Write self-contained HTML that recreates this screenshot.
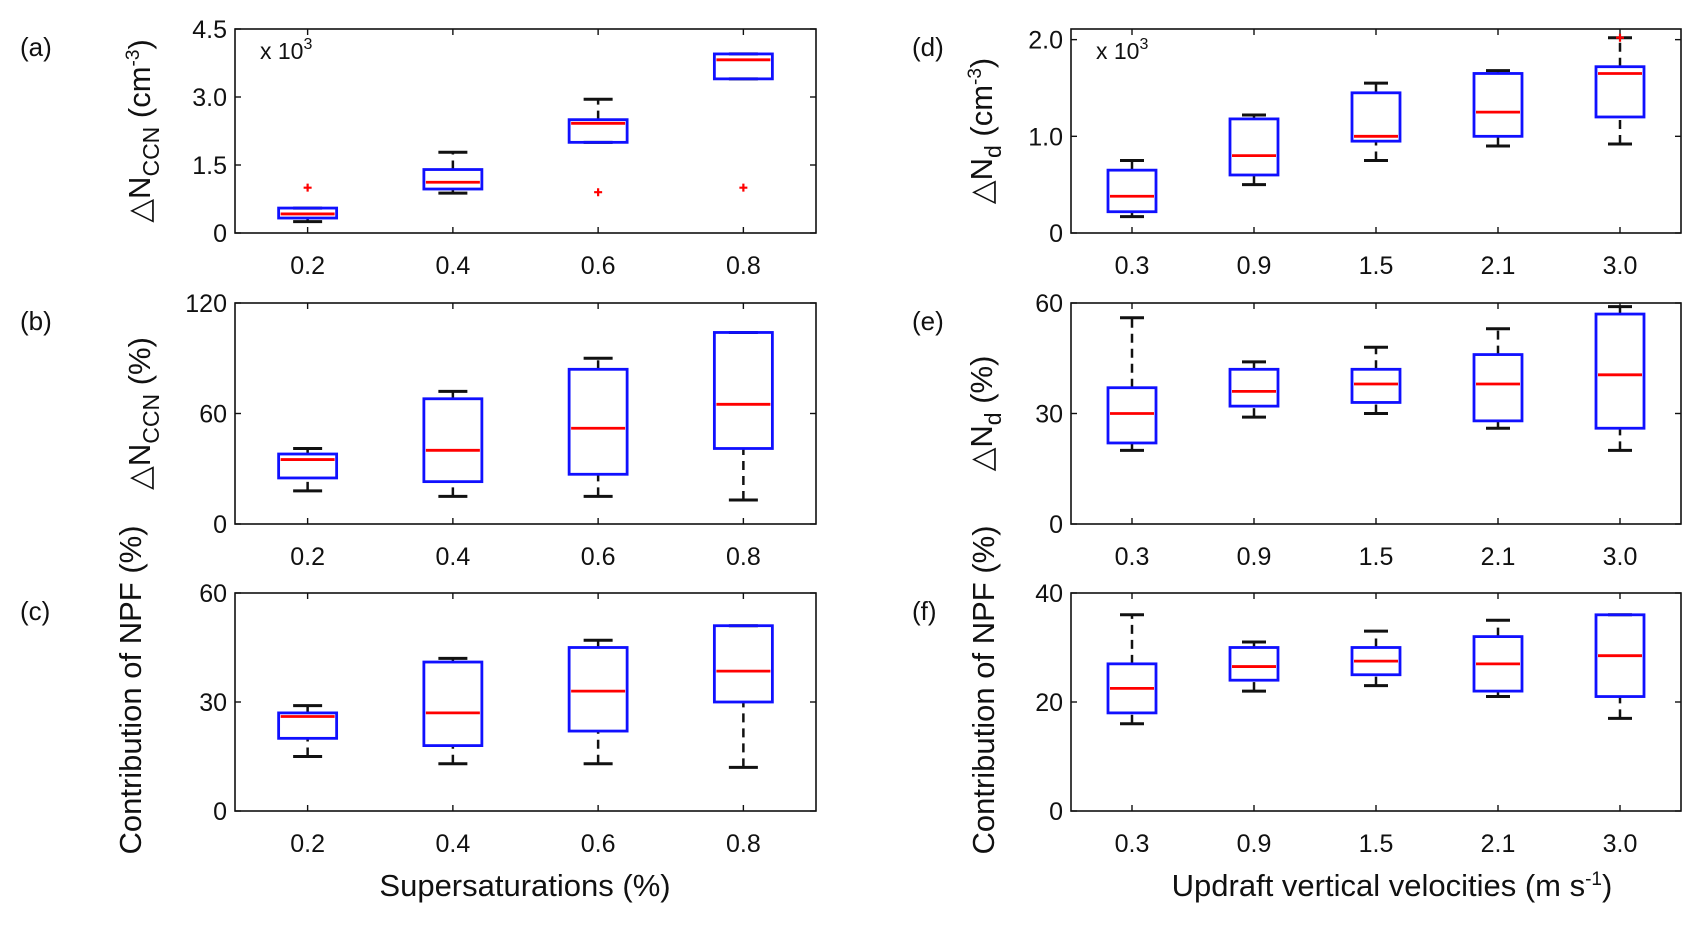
<!DOCTYPE html>
<html><head><meta charset="utf-8"><style>
body{margin:0;background:#fff;}
svg text{font-family:"Liberation Sans",Arial,sans-serif;fill:#111;}
</style></head><body>
<svg id="fig" width="1703" height="921" viewBox="0 0 1703 921" xmlns="http://www.w3.org/2000/svg"></svg>
<script>
// ---- data ----
const ssCats = ['0.2','0.4','0.6','0.8'];
const wCats = ['0.3','0.9','1.5','2.1','3.0'];
// each box: [lowWhisker, q1, median, q3, highWhisker]
const aBoxes = [[0.25,0.33,0.42,0.55,0.55],[0.88,0.97,1.12,1.40,1.78],[2.0,2.0,2.42,2.5,2.95],[3.4,3.4,3.82,3.95,3.95]];
const aOut = [[0,1.0],[2,0.9],[3,1.0]];
const bBoxes = [[18,25,35,38,41],[15,23,40,68,72],[15,27,52,84,90],[13,41,65,104,104]];
const cBoxes = [[15,20,26,27,29],[13,18,27,41,42],[13,22,33,45,47],[12,30,38.5,51,51]];
const dBoxes = [[0.17,0.22,0.38,0.65,0.75],[0.5,0.6,0.8,1.18,1.22],[0.75,0.95,1.0,1.45,1.55],[0.9,1.0,1.25,1.65,1.68],[0.92,1.2,1.65,1.72,2.02]];
const dOut = [[4,2.02]];
const eBoxes = [[20,22,30,37,56],[29,32,36,42,44],[30,33,38,42,48],[26,28,38,46,53],[20,26,40.5,57,59]];
const fBoxes = [[16,18,22.5,27,36],[22,24,26.5,30,31],[23,25,27.5,30,33],[21,22,27,32,35],[17,21,28.5,36,36]];
const aTicks = ['0','1.5','3.0','4.5'];
const bTicks = ['0','60','120'];
const cTicks = ['0','30','60'];
const dTicks = ['0','1.0','2.0'];
const eTicks = ['0','30','60'];
const fTicks = ['0','20','40'];

const NS='http://www.w3.org/2000/svg';
const svg=document.getElementById('fig');
function mk(tag,attrs,parent){const e=document.createElementNS(NS,tag);for(const k in attrs)e.setAttribute(k,attrs[k]);(parent||svg).appendChild(e);return e;}

function panel(o){
  const g=mk('g',{});
  
  
  const X=i=>o.x0+(o.x1-o.x0)*((i+0.5)*o.step+o.off);
  const Y=v=>o.y1-(o.y1-o.y0)*(v/o.ymax);
  const fr=mk('rect',{x:o.x0,y:o.y0,width:o.x1-o.x0,height:o.y1-o.y0,fill:'none',stroke:'#111','stroke-width':1.6},g);
  
  
  o.yt.forEach(t=>{const v=parseFloat(t);const y=Y(v);
    mk('line',{x1:o.x0,x2:o.x0+6,y1:y,y2:y,stroke:'#111','stroke-width':1.4},g);
    mk('line',{x1:o.x1,x2:o.x1-6,y1:y,y2:y,stroke:'#111','stroke-width':1.4},g);
    const tx=mk('text',{x:o.x0-8,y:y+9,'text-anchor':'end','font-size':25},g);tx.textContent=t;
    
    
  });
  o.cats.forEach((c,i)=>{const x=X(i);
    mk('line',{x1:x,x2:x,y1:o.y1,y2:o.y1-6,stroke:'#111','stroke-width':1.4},g);
    mk('line',{x1:x,x2:x,y1:o.y0,y2:o.y0+6,stroke:'#111','stroke-width':1.4},g);
    const tx=mk('text',{x:x,y:o.y1+41,'text-anchor':'middle','font-size':25},g);tx.textContent=c;
    
    
  });
  o.boxes.forEach((b,i)=>{const x=X(i);const hw=o.bw/2,cw=o.bw/4;
    const bg=mk('g',{},g);
    
    
    mk('line',{x1:x,x2:x,y1:Y(b[0]),y2:Y(b[1]),stroke:'#111','stroke-width':2.5,'stroke-dasharray':'9,6'},bg);
    mk('line',{x1:x,x2:x,y1:Y(b[3]),y2:Y(b[4]),stroke:'#111','stroke-width':2.5,'stroke-dasharray':'9,6'},bg);
    mk('line',{x1:x-cw,x2:x+cw,y1:Y(b[0]),y2:Y(b[0]),stroke:'#111','stroke-width':3},bg);
    mk('line',{x1:x-cw,x2:x+cw,y1:Y(b[4]),y2:Y(b[4]),stroke:'#111','stroke-width':3},bg);
    mk('rect',{x:x-hw,y:Y(b[3]),width:o.bw,height:Math.max(Y(b[1])-Y(b[3]),1),fill:'none',stroke:'#1010ff','stroke-width':2.8},bg);
    mk('line',{x1:x-hw+2,x2:x+hw-2,y1:Y(b[2]),y2:Y(b[2]),stroke:'#ff0000','stroke-width':2.8},bg);
  });
  (o.out||[]).forEach(p=>{const x=X(p[0]),y=Y(p[1]);
    const t=mk('path',{d:`M${x-4} ${y}H${x+4}M${x} ${y-4}V${y+4}`,stroke:'#ff0000','stroke-width':2.2},g);
    
    
  });
  if(o.mult){const t=mk('text',{x:o.x0+25,y:o.y0+30,'font-size':23},g);t.innerHTML='x 10<tspan dy="-10" font-size="16">3</tspan>';
    
    }
  const pl=mk('text',{x:o.plx,y:o.y0+27,'font-size':26},g);pl.textContent=o.label;
  
  
  const yc=(o.y0+o.y1)/2+(o.yoff||0);
  const yl=mk('text',{transform:`translate(${o.ylx},${yc}) rotate(-90)`,'text-anchor':'middle','font-size':31},g);yl.innerHTML=o.ytitle;
  
  
}
const rows=[{y0:29,y1:233},{y0:303,y1:524},{y0:593,y1:811}];
const left={x0:235,x1:816,step:0.25,off:0,bw:58,plx:20,ylx:150};
const right={x0:1071,x1:1681,step:0.2,off:0,bw:48,plx:912,ylx:992};
panel(Object.assign({},left,rows[0],{name:'panel-a',cats:ssCats,boxes:aBoxes,out:aOut,yt:aTicks,ymax:4.5,mult:true,label:'(a)',ytitle:'△N<tspan font-size="23" dy="9">CCN</tspan><tspan dy="-9"> (cm</tspan><tspan font-size="19" dy="-11">-3</tspan><tspan dy="11">)</tspan>'}));
panel(Object.assign({},left,rows[1],{name:'panel-b',cats:ssCats,boxes:bBoxes,yt:bTicks,ymax:120,label:'(b)',ytitle:'△N<tspan font-size="23" dy="9">CCN</tspan><tspan dy="-9"> (%)</tspan>'}));
panel(Object.assign({},left,rows[2],{name:'panel-c',cats:ssCats,boxes:cBoxes,yt:cTicks,ymax:60,label:'(c)',ylx:141,yoff:-12,ytitle:'Contribution of NPF (%)'}));
panel(Object.assign({},right,rows[0],{name:'panel-d',cats:wCats,boxes:dBoxes,out:dOut,yt:dTicks,ymax:2.11,mult:true,label:'(d)',ytitle:'△N<tspan font-size="23" dy="9">d</tspan><tspan dy="-9"> (cm</tspan><tspan font-size="19" dy="-11">-3</tspan><tspan dy="11">)</tspan>'}));
panel(Object.assign({},right,rows[1],{name:'panel-e',cats:wCats,boxes:eBoxes,yt:eTicks,ymax:60,label:'(e)',ytitle:'△N<tspan font-size="23" dy="9">d</tspan><tspan dy="-9"> (%)</tspan>'}));
panel(Object.assign({},right,rows[2],{name:'panel-f',cats:wCats,boxes:fBoxes,yt:fTicks,ymax:40,label:'(f)',ylx:994,yoff:-12,ytitle:'Contribution of NPF (%)'}));
const xt1=mk('text',{x:525,y:896,'text-anchor':'middle','font-size':31});xt1.textContent='Supersaturations (%)';


const xt2=mk('text',{x:1392,y:896,'text-anchor':'middle','font-size':31});xt2.innerHTML='Updraft vertical velocities (m s<tspan font-size="19" dy="-11">-1</tspan><tspan dy="11">)</tspan>';


</script>
</body></html>
